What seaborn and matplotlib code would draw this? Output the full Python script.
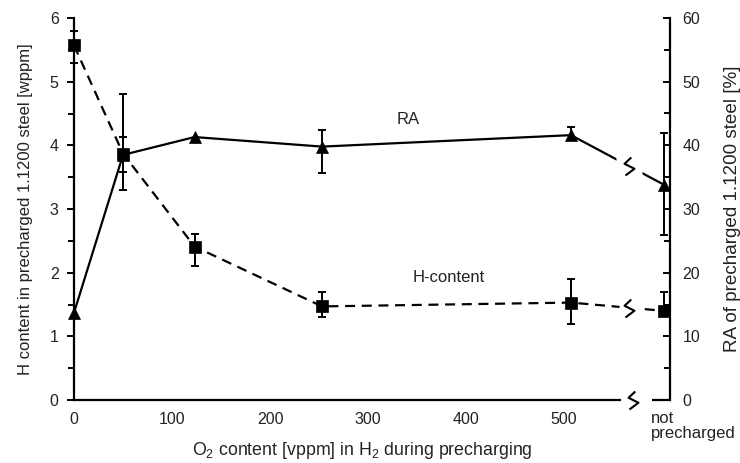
import numpy as np
import pandas as pd
import matplotlib
matplotlib.use("Agg")
import matplotlib.pyplot as plt
import seaborn as sns
from matplotlib.path import Path

# ---------------- data ----------------
o2_vppm = [0, 50, 123, 253, 507]
x_tick_values = [0, 100, 200, 300, 400, 500]
x_tick_labels = ["0", "100", "200", "300", "400", "500"]
not_precharged_label = "not\nprecharged"

h_content = [5.57, 3.87, 2.41, 1.47, 1.53, 1.40]          # wppm (left axis)
h_err_low = [5.30, 3.58, 2.10, 1.30, 1.20, 1.33]
h_err_high = [5.80, 4.13, 2.60, 1.70, 1.90, 1.70]

ra = [13.7, 38.5, 41.3, 39.8, 41.6, 33.8]                # % (right axis)
ra_err_low = [np.nan, 33.0, np.nan, 35.6, 40.9, 25.9]
ra_err_high = [np.nan, 48.0, np.nan, 42.4, 42.9, 41.9]

# ---------------- layout constants ----------------
NOT_PRE_X = 602          # position of the "not precharged" category on the x scale
X_MAX = 608
AXIS_BREAK_END = 557     # end of the continuous part of the x axis
AXIS_RESUME = 590        # where the axis resumes after the break
BREAK_X = 566            # position of the break symbols

sns.set_style("white")
plt.rcParams["font.family"] = ["Liberation Sans", "DejaVu Sans"]
plt.rcParams["mathtext.fontset"] = "custom"
plt.rcParams["mathtext.rm"] = "Liberation Sans"
plt.rcParams["mathtext.it"] = "Liberation Sans:italic"

TXT = "#222222"
FS = 11.5

x_all = o2_vppm + [NOT_PRE_X]
df = pd.DataFrame({"x": x_all, "h": h_content, "ra": ra})

fig = plt.figure(figsize=(7.4, 4.63), dpi=100)
ax = fig.add_axes([74 / 740, 63 / 463, (670 - 74) / 740, (400 - 18) / 463])
ax2 = ax.twinx()

# --- H content (dashed, squares) ---
h = np.array(h_content)
ax.errorbar(x_all, h, yerr=[h - np.array(h_err_low), np.array(h_err_high) - h],
            fmt="none", ecolor="k", elinewidth=1.4, capsize=3, capthick=1.4,
            zorder=2, clip_on=False)
sns.lineplot(data=df, x="x", y="h", ax=ax, color="k", marker="s", markersize=9,
             markeredgecolor="k", markeredgewidth=0.5, linestyle=(0, (4.5, 3)),
             linewidth=1.6, clip_on=False, zorder=3)

# --- RA (solid, triangles) ---
r = np.array(ra)
lo = np.array(ra_err_low)
hi = np.array(ra_err_high)
m = ~np.isnan(lo)
ax2.errorbar(np.array(x_all)[m], r[m], yerr=[r[m] - lo[m], hi[m] - r[m]],
             fmt="none", ecolor="k", elinewidth=1.4, capsize=3, capthick=1.4,
             zorder=2, clip_on=False)
sns.lineplot(data=df, x="x", y="ra", ax=ax2, color="k", marker="^", markersize=8.5,
             markeredgecolor="k", markeredgewidth=0.5, linewidth=1.6,
             clip_on=False, zorder=3)

# --- axes setup ---
ax.set_xlim(0, X_MAX)
ax.set_ylim(0, 6)
ax2.set_ylim(0, 60)

ax.set_xticks(x_tick_values + [NOT_PRE_X])
ax.set_xticklabels(x_tick_labels + [""])
ax.set_xticks([50, 150, 250, 350, 450, 550], minor=True)
ax.set_yticks(range(0, 7))
ax.set_yticks(np.arange(0.5, 6, 1.0), minor=True)
ax2.set_yticks(range(0, 61, 10))
ax2.set_yticks(range(5, 60, 10), minor=True)

for a in (ax, ax2):
    a.grid(False)
    for s in a.spines.values():
        s.set_visible(False)

ax.spines["left"].set_visible(True)
ax.spines["bottom"].set_visible(True)
ax2.spines["right"].set_visible(True)
for s in (ax.spines["left"], ax.spines["bottom"], ax2.spines["right"]):
    s.set_linewidth(1.6)
    s.set_color("k")
ax.spines["bottom"].set_bounds(0, AXIS_BREAK_END)
ax.plot([AXIS_RESUME, X_MAX], [0, 0], color="k", lw=1.6, clip_on=False,
        solid_capstyle="butt", zorder=4)

ax.tick_params(axis="both", which="both", direction="out", colors="k",
               labelcolor=TXT, labelsize=FS, width=1.4)
ax.tick_params(which="major", length=5)
ax.tick_params(axis="y", which="major", pad=6)
ax.tick_params(axis="x", which="major", pad=4)
ax.tick_params(which="minor", length=4)
ax2.tick_params(axis="y", which="both", direction="in", colors="k",
                labelcolor=TXT, labelsize=FS, width=1.4, pad=9)
ax2.tick_params(which="major", length=5)
ax2.tick_params(which="minor", length=4)

ax.annotate(not_precharged_label, xy=(AXIS_RESUME, 0),
            xycoords=("data", "axes fraction"), xytext=(-1, -8),
            textcoords="offset points", ha="left", va="top",
            fontsize=12, color=TXT, linespacing=1.0)

ax.set_xlabel(r"O$_2$ content [vppm] in H$_2$ during precharging",
              fontsize=12.8, color=TXT)
ax.xaxis.set_label_coords(0.483, -0.105)
ax.set_ylabel("H content in precharged 1.1200 steel [wppm]", fontsize=12, color=TXT)
ax.yaxis.set_label_coords(-0.069, 0.5)
ax2.set_ylabel("RA of precharged 1.1200 steel [%]", fontsize=13.6, color=TXT)
ax2.yaxis.set_label_coords(1.09, 0.5)

ax.text(341, 4.40, "RA", ha="center", va="center", fontsize=12, color=TXT)
ax.text(382, 1.93, "H-content", ha="center", va="center", fontsize=12, color=TXT)

# --- break symbols ---
squiggle = Path([(0.2, 1.0), (-0.55, 0.3), (0.55, -0.25), (-0.45, -1.0)])
seg_x = x_all[-2:]
h_at_break = np.interp(BREAK_X, seg_x, h_content[-2:])
ra_at_break = np.interp(BREAK_X, seg_x, ra[-2:])

ax.plot([BREAK_X], [h_at_break], marker="s", ms=14, mfc="white", mec="none",
        ls="none", zorder=5, clip_on=False)
ax.plot([BREAK_X], [h_at_break], marker=squiggle, ms=13, mfc="none", mec="k",
        mew=1.5, ls="none", zorder=6, clip_on=False)
ax2.plot([BREAK_X], [ra_at_break], marker="s", ms=19, mfc="white", mec="none",
         ls="none", zorder=5, clip_on=False)
ax2.plot([BREAK_X], [ra_at_break], marker=squiggle, ms=13, mfc="none", mec="k",
         mew=1.5, ls="none", zorder=6, clip_on=False)
ax.plot([BREAK_X + 4], [0], marker=squiggle, ms=13, mfc="none", mec="k",
        mew=1.5, ls="none", zorder=6, clip_on=False)

fig.savefig("out.png", dpi=100)
